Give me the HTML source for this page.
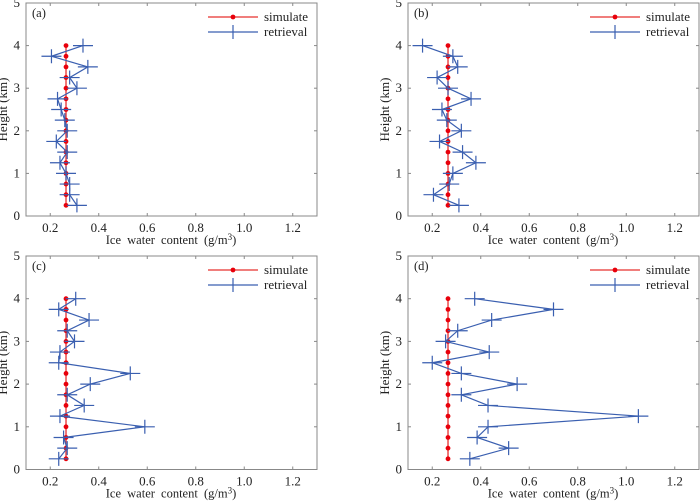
<!DOCTYPE html>
<html><head><meta charset="utf-8"><style>
body{margin:0;background:#fff;}
svg{display:block;font-family:"Liberation Serif",serif;}
</style></head><body>
<svg id="chart" width="700" height="501"></svg>
<script>
const heights=[0.25,0.5,0.75,1,1.25,1.5,1.75,2,2.25,2.5,2.75,3,3.25,3.5,3.75,4];
const simulateA=[0.265,0.265,0.265,0.265,0.265,0.265,0.265,0.265,0.265,0.265,0.265,0.265,0.265,0.265,0.265,0.265];
const simulateB=simulateA.slice();
const simulateC=simulateA.slice();
const simulateD=simulateA.slice();
const retrievalA=[0.31,0.28,0.28,0.265,0.24,0.27,0.225,0.27,0.26,0.245,0.23,0.31,0.28,0.355,0.205,0.335];
const retrievalB=[0.31,0.205,0.27,0.285,0.38,0.325,0.23,0.32,0.26,0.24,0.36,0.265,0.22,0.305,0.285,0.16];
const retrievalC=[0.235,0.27,0.255,0.59,0.24,0.34,0.27,0.365,0.53,0.235,0.24,0.3,0.27,0.36,0.235,0.305];
const retrievalD=[0.355,0.515,0.385,0.43,1.05,0.43,0.32,0.55,0.32,0.2,0.435,0.255,0.305,0.445,0.7,0.375];
const xTicks=[0.2,0.4,0.6,0.8,1.0,1.2];
const xTickLabels=["0.2","0.4","0.6","0.8","1.0","1.2"];
const yTicks=[0,1,2,3,4,5];
const panelLabels=["(a)","(b)","(c)","(d)"];

const NS="http://www.w3.org/2000/svg";
const svg=document.getElementById('chart');
function mk(tag,attrs,parent){const e=document.createElementNS(NS,tag);for(const k in attrs)e.setAttribute(k,attrs[k]);(parent||svg).appendChild(e);return e;}

const panels=[
 {left:26,top:3,bottom:216,sim:simulateA,ret:retrievalA},
 {left:408,top:3,bottom:216,sim:simulateB,ret:retrievalB},
 {left:26,top:256,bottom:469.5,sim:simulateC,ret:retrievalC},
 {left:408,top:256,bottom:469.5,sim:simulateD,ret:retrievalD}
];
const W=291;
panels.forEach((p,i)=>{
  const g=mk('g',{});
  
  
  const xs=v=>p.left+(v-0.1)/1.2*W;
  const ys=v=>p.bottom-(v/5)*(p.bottom-p.top);
  const box=mk('rect',{x:p.left,y:p.top,width:W,height:p.bottom-p.top,fill:'none',stroke:'#888','stroke-width':1},g);
  
  
  xTicks.forEach((t,k)=>{
    const x=xs(t);
    mk('line',{x1:x,x2:x,y1:p.bottom,y2:p.bottom-3,stroke:'#888'},g);
    mk('line',{x1:x,x2:x,y1:p.top,y2:p.top+3,stroke:'#888'},g);
    const tx=mk('text',{x:x,y:p.bottom+16,'text-anchor':'middle','font-size':13,fill:'#222'},g);
    tx.textContent=xTickLabels[k];
    
    
  });
  yTicks.forEach(t=>{
    const y=ys(t);
    mk('line',{x1:p.left,x2:p.left+3,y1:y,y2:y,stroke:'#888'},g);
    mk('line',{x1:p.left+W,x2:p.left+W-3,y1:y,y2:y,stroke:'#888'},g);
    const tx=mk('text',{x:p.left-6,y:y+4,'text-anchor':'end','font-size':13,fill:'#222'},g);
    tx.textContent=String(t);
    
    
  });
  const xl=mk('text',{x:p.left+145,y:p.bottom+28,'text-anchor':'middle','font-size':12.5,fill:'#222','word-spacing':'3'},g);
  xl.innerHTML='Ice water content (g/m<tspan font-size="9" dy="-4">3</tspan><tspan dy="4">)</tspan>';
  
  
  const yc=(p.top+p.bottom)/2;
  const yl=mk('text',{x:p.left-19,y:yc,'text-anchor':'middle','font-size':13,fill:'#222',transform:`rotate(-90 ${p.left-19} ${yc})`},g);
  yl.textContent='Height (km)';
  
  
  const pl=mk('text',{x:p.left+6,y:p.top+14,'font-size':12.5,fill:'#222'},g);
  pl.textContent=panelLabels[i];
  
  
  const sp=heights.map((h,k)=>xs(p.sim[k])+','+ys(h)).join(' ');
  const sl=mk('polyline',{points:sp,fill:'none',stroke:'#e8302f','stroke-width':1.3},g);
  
  
  heights.forEach((h,k)=>{
    const c=mk('circle',{cx:xs(p.sim[k]),cy:ys(h),r:2.4,fill:'#e8000b'},g);
    
    
  });
  const rp=heights.map((h,k)=>xs(p.ret[k])+','+ys(h)).join(' ');
  const rl=mk('polyline',{points:rp,fill:'none',stroke:'#3a5fb0','stroke-width':1.2},g);
  
  
  heights.forEach((h,k)=>{
    const x=xs(p.ret[k]),y=ys(h);
    const m=mk('path',{d:`M${x-10},${y}H${x+10}M${x},${y-7}V${y+7}`,stroke:'#3a5fb0','stroke-width':1.2},g);
    
    
  });
  const lg=mk('g',{},g);
  
  
  const lx=p.left+182, ly1=p.top+14, ly2=p.top+29;
  mk('line',{x1:lx,x2:lx+50,y1:ly1,y2:ly1,stroke:'#e8302f','stroke-width':1.3},lg);
  mk('circle',{cx:lx+25,cy:ly1,r:2.4,fill:'#e8000b'},lg);
  const t1=mk('text',{x:lx+56,y:ly1+4,'font-size':13,fill:'#222'},lg);
  t1.textContent='simulate';
  
  
  mk('line',{x1:lx,x2:lx+50,y1:ly2,y2:ly2,stroke:'#3a5fb0','stroke-width':1.2},lg);
  mk('path',{d:`M${lx+25},${ly2-7}V${ly2+7}`,stroke:'#3a5fb0','stroke-width':1.2},lg);
  const t2=mk('text',{x:lx+56,y:ly2+4,'font-size':13,fill:'#222'},lg);
  t2.textContent='retrieval';
  
  
});
</script>
</body></html>
